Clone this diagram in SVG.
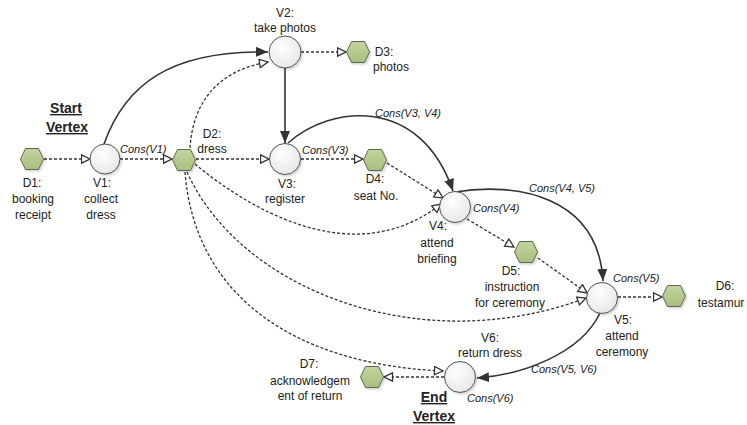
<svg xmlns="http://www.w3.org/2000/svg" width="747" height="425" viewBox="0 0 747 425">
<style>
text{font-family:"Liberation Sans",Arial,sans-serif;font-size:12px;fill:#222;text-anchor:middle}
.c{font-style:italic;font-size:11px;text-anchor:start}
.b{font-weight:bold;font-size:14px;text-decoration:underline}
.v{fill:url(#gv);stroke:#555;stroke-width:1}
.d{fill:url(#gd);stroke:#5f6a55;stroke-width:1}
.s{fill:none;stroke:#333;stroke-width:1.6;marker-end:url(#ms)}
.o{fill:none;stroke:#333;stroke-width:1.3;stroke-dasharray:3 2;marker-end:url(#mo)}
</style>
<defs>
<radialGradient id="gv" cx="0.4" cy="0.35" r="0.7"><stop offset="0" stop-color="#ffffff"/><stop offset="1" stop-color="#e6e6e6"/></radialGradient>
<linearGradient id="gd" x1="0" y1="0" x2="0" y2="1"><stop offset="0" stop-color="#c3d49e"/><stop offset="1" stop-color="#a9bf7f"/></linearGradient>
<filter id="sh" x="-30%" y="-30%" width="170%" height="170%"><feDropShadow dx="1.5" dy="1.5" stdDeviation="1" flood-color="#000" flood-opacity="0.18"/></filter>
<marker id="ms" markerUnits="userSpaceOnUse" markerWidth="14" markerHeight="11" refX="12" refY="5" orient="auto"><path d="M0,0 L12,5 L0,10 z" fill="#333"/></marker>
<marker id="mo" markerUnits="userSpaceOnUse" markerWidth="12" markerHeight="12" refX="9.5" refY="5" orient="auto"><path d="M1,0.8 L9.5,5 L1,9.2 z" fill="#fff" stroke="#333" stroke-width="1.3"/></marker>
<path id="hex" d="M-11.5,0 L-6.5,-10.5 L6.5,-10.5 L11.5,0 L6.5,10.5 L-6.5,10.5 z"/>
</defs>

<g id="connectors">
<path class="s" d="M104,144 C125,85 170,50 268,52"/>
<path class="s" d="M285,68 L285,143"/>
<path class="s" d="M288,143 C330,105 420,95 453,191"/>
<path class="s" d="M455,192 C515,182 598,195 603,281"/>
<path class="s" d="M600,313 C580,355 520,375 477,378"/>
<path class="o" d="M44,159 L90,159"/>
<path class="o" d="M120,159 L172,159"/>
<path class="o" d="M196,159 L269,159"/>
<path class="o" d="M301,159 L363,159"/>
<path class="o" d="M301,52 L346,52"/>
<path class="o" d="M618,297 L662,297"/>
<path class="o" d="M444,377 L384,377"/>
<path class="o" d="M387,163 L443,198"/>
<path class="o" d="M467,219 L514,247"/>
<path class="o" d="M538,258 L587,293"/>
<path class="o" d="M190,148 C193,100 220,70 268,62"/>
<path class="o" d="M195,164 C260,218 360,268 441,204"/>
<path class="o" d="M187,172 C240,290 420,360 586,298"/>
<path class="o" d="M185,172 C195,300 300,365 443,371"/>
</g>

<g id="start-label"><text class="b" x="66" y="113">Start</text><text class="b" x="67" y="132">Vertex</text></g>
<g id="end-label"><text class="b" x="434" y="402">End</text><text class="b" x="434" y="421">Vertex</text></g>

<g id="D1"><use href="#hex" class="d" filter="url(#sh)" x="32" y="159"/><text x="32" y="187">D1:</text><text x="33" y="203">booking</text><text x="33" y="219">receipt</text></g>
<g id="V1"><circle class="v" filter="url(#sh)" cx="105" cy="159" r="15"/><text x="102" y="187">V1:</text><text x="101" y="203">collect</text><text x="101" y="219">dress</text><text class="c" x="120" y="153">Cons(V1)</text></g>
<g id="D2"><use href="#hex" class="d" filter="url(#sh)" x="184" y="160"/><text x="212" y="138">D2:</text><text x="212" y="153">dress</text></g>
<g id="V2"><circle class="v" filter="url(#sh)" cx="285" cy="52" r="16"/><text x="285" y="17">V2:</text><text x="285" y="32">take photos</text></g>
<g id="D3"><use href="#hex" class="d" filter="url(#sh)" x="358" y="52"/><text x="384" y="56">D3:</text><text x="391" y="71">photos</text></g>
<g id="V3"><circle class="v" filter="url(#sh)" cx="285" cy="159" r="15.5"/><text x="287" y="188">V3:</text><text x="285" y="203">register</text><text class="c" x="302" y="154">Cons(V3)</text><text class="c" x="375" y="117">Cons(V3, V4)</text></g>
<g id="D4"><use href="#hex" class="d" filter="url(#sh)" x="375" y="160"/><text x="375" y="183">D4:</text><text x="376" y="200">seat No.</text></g>
<g id="V4"><circle class="v" filter="url(#sh)" cx="455" cy="207" r="15.5"/><text x="438" y="230">V4:</text><text x="437" y="247">attend</text><text x="437" y="263">briefing</text><text class="c" x="473" y="212">Cons(V4)</text><text class="c" x="529" y="192">Cons(V4, V5)</text></g>
<g id="D5"><use href="#hex" class="d" filter="url(#sh)" x="526" y="252"/><text x="511" y="275">D5:</text><text x="512" y="291">instruction</text><text x="510" y="307">for ceremony</text></g>
<g id="V5"><circle class="v" filter="url(#sh)" cx="602" cy="298" r="15.5"/><text x="623" y="324">V5:</text><text x="622" y="340">attend</text><text x="622" y="356">ceremony</text><text class="c" x="613" y="282">Cons(V5)</text><text class="c" x="531" y="373">Cons(V5, V6)</text></g>
<g id="D6"><use href="#hex" class="d" filter="url(#sh)" x="674" y="296"/><text x="725" y="290">D6:</text><text x="721" y="307">testamur</text></g>
<g id="V6"><circle class="v" filter="url(#sh)" cx="460" cy="377" r="15.5"/><text x="490" y="342">V6:</text><text x="490" y="357">return dress</text><text class="c" x="467" y="402">Cons(V6)</text></g>
<g id="D7"><use href="#hex" class="d" filter="url(#sh)" x="372" y="377"/><text x="309" y="368">D7:</text><text x="310" y="385">acknowledgem</text><text x="310" y="400">ent of return</text></g>
</svg>
